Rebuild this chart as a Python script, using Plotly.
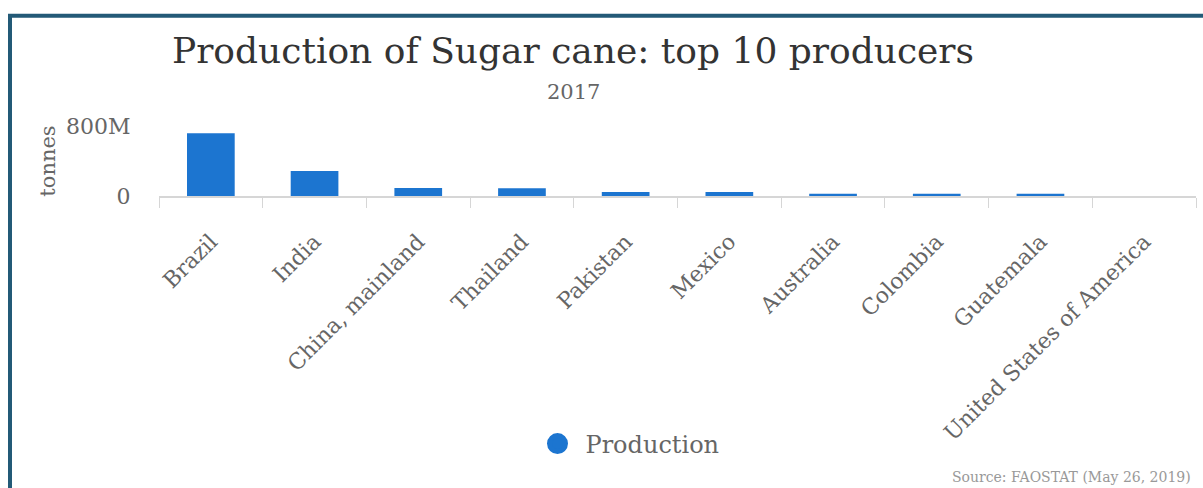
import plotly.graph_objects as go

# Sugar cane production, 2017 (tonnes)
countries = ["Brazil", "India", "China, mainland", "Thailand", "Pakistan",
             "Mexico", "Australia", "Colombia", "Guatemala",
             "United States of America"]
production = [718e6, 285e6, 92e6, 88e6, 45e6, 45e6, 25e6, 25e6, 25e6, None]

y_ticks = [0, 800e6]

W, H = 1203, 488
L, R, T, B = 159, 7, 126, 291.5
FONT = "DejaVu Serif"
BAR_BLUE = "#1c75d0"
FRAME = "#235a77"

fig = go.Figure()
fig.add_trace(go.Bar(
    x=countries, y=production, name="Production",
    marker=dict(color=BAR_BLUE, line=dict(width=0)),
    showlegend=False,
))
# legend entry drawn as a circle
fig.add_trace(go.Scatter(
    x=[None], y=[None], mode="markers", name="Production",
    marker=dict(color=BAR_BLUE, size=16, symbol="circle",
                line=dict(color=BAR_BLUE, width=5)),
))

plot_w = W - L - R
plot_h = H - T - B


def px_x(px):
    return (px - L) / plot_w


def px_y(py):
    return (H - B - py) / plot_h


fig.update_layout(
    width=W, height=H,
    margin=dict(l=L, r=R, t=T, b=B, autoexpand=False),
    paper_bgcolor="white", plot_bgcolor="white",
    font=dict(family=FONT, color="#666666"),
    bargap=0.54,
    title=dict(text="Production of Sugar cane: top 10 producers",
               font=dict(family=FONT, size=36, color="#333333"),
               x=573 / W, xanchor="center", xref="container",
               y=1 - 50 / H, yanchor="middle", yref="container"),
    showlegend=True,
    legend=dict(orientation="h", x=627 / W, xref="container", xanchor="center",
                y=1 - 444 / H, yref="container", yanchor="middle",
                itemwidth=46,
                font=dict(family=FONT, size=24, color="#666666"),
                bgcolor="rgba(0,0,0,0)"),
    xaxis=dict(
        type="category", tickson="boundaries", ticks="outside", ticklen=10,
        tickcolor="#d6d6d6", tickwidth=1,
        showline=True, linecolor="#d6d6d6", linewidth=2,
        tickangle=-45, tickfont=dict(family=FONT, size=22, color="#666666"),
        ticklabelstandoff=22,
        showgrid=False, fixedrange=True,
    ),
    yaxis=dict(
        range=[0, 800e6], tickvals=y_ticks, tickformat="~s",
        showgrid=True, gridcolor="#e6e6e6", gridwidth=1,
        zeroline=False, showline=False,
        ticks="outside", ticklen=23, tickcolor="rgba(0,0,0,0)",
        tickfont=dict(family=FONT, size=22, color="#666666"),
        title=dict(text="tonnes", standoff=4,
                   font=dict(family=FONT, size=21, color="#666666")),
        fixedrange=True,
    ),
    annotations=[
        dict(text="2017", x=px_x(573), y=px_y(92), xref="paper", yref="paper",
             showarrow=False, font=dict(family=FONT, size=21, color="#666666"),
             xanchor="center", yanchor="middle"),
        dict(text="Source: FAOSTAT (May 26, 2019)", x=px_x(1193), y=px_y(480),
             xref="paper", yref="paper", showarrow=False,
             font=dict(family=FONT, size=14, color="#999999"),
             xanchor="right", yanchor="middle"),
    ],
    shapes=[
        dict(type="rect", xref="paper", yref="paper",
             x0=px_x(10), x1=px_x(1215), y0=px_y(15), y1=px_y(500),
             line=dict(color=FRAME, width=4), fillcolor="rgba(0,0,0,0)",
             layer="below"),
    ],
)

fig.write_html("out.html")
